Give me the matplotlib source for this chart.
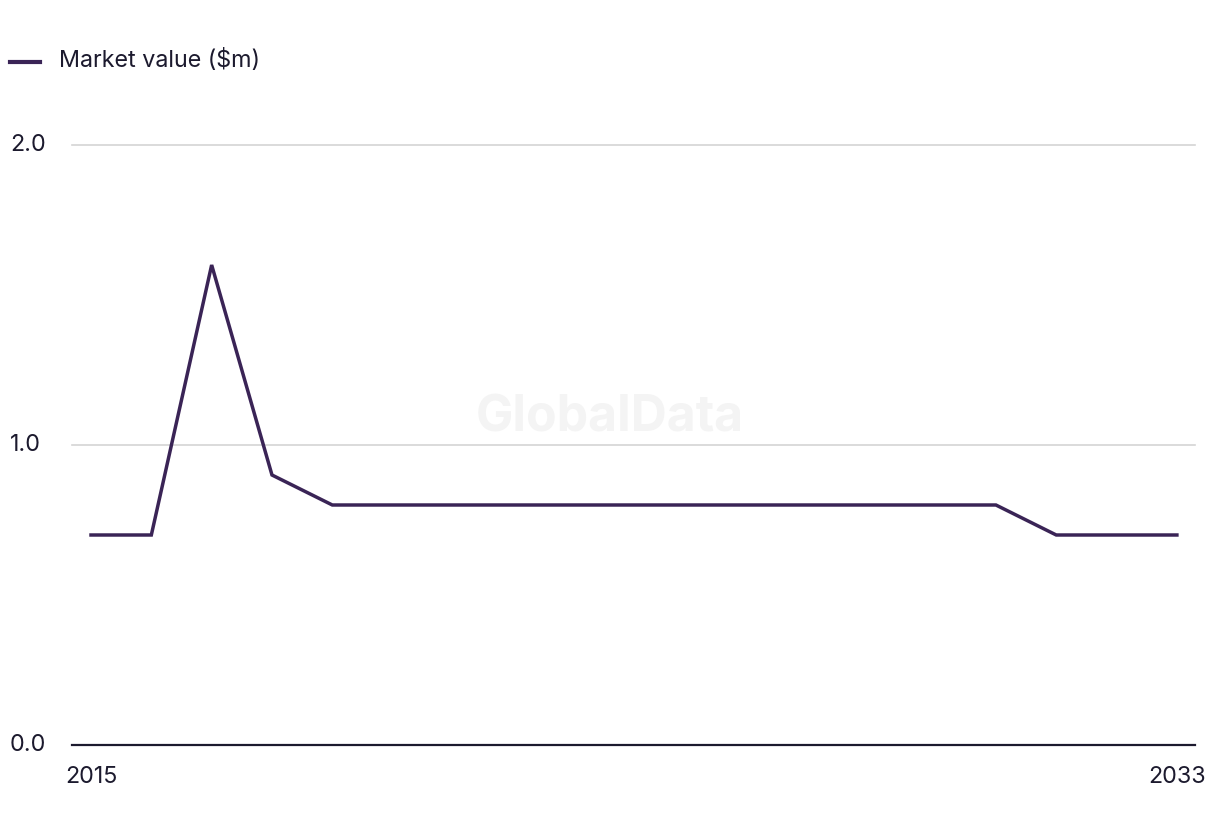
import matplotlib
matplotlib.use("Agg")
from matplotlib import pyplot as plt
from matplotlib import transforms

years = list(range(2015, 2034))
market_value = [0.7, 0.7, 1.6, 0.9, 0.8, 0.8, 0.8, 0.8, 0.8, 0.8,
                0.8, 0.8, 0.8, 0.8, 0.8, 0.8, 0.7, 0.7, 0.7]
y_ticks = [0.0, 1.0, 2.0]
y_labels = ["0.0", "1.0", "2.0"]
x_labels = ["2015", "2033"]

line_color = "#3a2456"
text_color = "#1c1a2e"

plt.rcParams['font.family'] = ['Inter', 'DejaVu Sans']

fig = plt.figure(figsize=(12.2, 8.36), dpi=100)
ax = fig.add_axes([72 / 1220, 1 - 745 / 836, (1195 - 72) / 1220, (745 - 145) / 836])

ax.plot(years, market_value, color=line_color, linewidth=2.5, solid_joinstyle="miter")

ax.set_xlim(2014.685, 2033.3)
ax.set_ylim(0, 2.0)

for v in y_ticks:
    if v == 0:
        ax.axhline(v, color=text_color, linewidth=1.6, zorder=3, clip_on=False)
    else:
        ax.axhline(v, color="#d4d4d4", linewidth=1.2, zorder=0, clip_on=False)

for s in ax.spines.values():
    s.set_visible(False)
ax.set_xticks([])
ax.set_yticks([])

trans_y = transforms.blended_transform_factory(fig.transFigure, ax.transData)
for v, lab in zip(y_ticks, y_labels):
    ax.text(10 / 1220, v, lab, transform=trans_y, ha="left", va="center",
            fontsize=16.8, color=text_color)

trans_x = transforms.blended_transform_factory(ax.transData, fig.transFigure)
ax.text(2015, 1 - 777 / 836, x_labels[0], transform=trans_x, ha="center", va="center",
        fontsize=16.8, color=text_color)
ax.text(2033, 1 - 777 / 836, x_labels[1], transform=trans_x, ha="center", va="center",
        fontsize=16.8, color=text_color)

# legend
fig.add_artist(plt.Line2D([10 / 1220, 40 / 1220], [1 - 62 / 836, 1 - 62 / 836],
                          color=line_color, linewidth=3, transform=fig.transFigure))
fig.text(59 / 1220, 1 - 61 / 836, "Market value ($m)", ha="left", va="center",
         fontsize=16.8, color=text_color)

# watermark
fig.text(610 / 1220, 1 - 418 / 836, "GlobalData", ha="center", va="center",
         fontsize=36, fontweight="bold", color="#f4f4f4", zorder=0)

fig.savefig("out.png", dpi=100, facecolor="white")
